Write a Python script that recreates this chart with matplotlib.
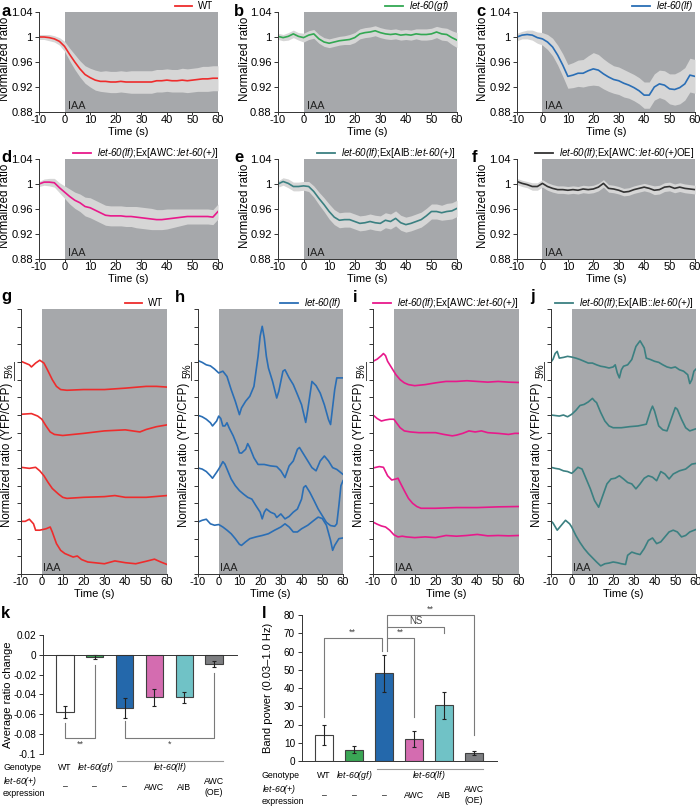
import numpy as np
import matplotlib.pyplot as plt
from matplotlib import transforms

plt.rcParams['font.family'] = ['Liberation Sans', 'DejaVu Sans']
plt.rcParams['mathtext.fontset'] = 'custom'
plt.rcParams['mathtext.it'] = 'Liberation Sans:italic'
plt.rcParams['mathtext.rm'] = 'Liberation Sans:italic'
plt.rcParams['axes.linewidth'] = 0.7
plt.rcParams['axes.unicode_minus'] = False

# ---------------- data ----------------
T = np.arange(-10, 61, 2)

a_mean = [1.000, 1.000, 0.999, 0.997, 0.993, 0.985,
          0.972, 0.960, 0.949, 0.940, 0.935,
          0.931, 0.929, 0.929, 0.928, 0.928,
          0.929, 0.928, 0.928, 0.928, 0.928,
          0.928, 0.928, 0.930, 0.930, 0.931,
          0.930, 0.930, 0.931, 0.930, 0.931,
          0.932, 0.933, 0.933, 0.934, 0.934]
a_sd = [0.004, 0.004, 0.005, 0.005, 0.006, 0.008,
        0.010, 0.012, 0.013, 0.014, 0.015,
        0.016, 0.016, 0.017, 0.017, 0.017,
        0.017, 0.017, 0.018, 0.018, 0.018,
        0.018, 0.018, 0.018, 0.018, 0.018,
        0.018, 0.018, 0.019, 0.019, 0.019,
        0.019, 0.020, 0.020, 0.020, 0.020]

b_mean = [1.001, 0.999, 1.001, 1.005, 1.001, 0.999,
          1.003, 1.005, 0.997, 0.992, 0.990,
          0.992, 0.994, 0.995, 0.996, 0.999,
          1.005, 1.007, 1.008, 1.010, 1.007,
          1.005, 1.004, 1.005, 1.003, 1.004,
          1.003, 1.005, 1.004, 1.004, 1.005,
          1.008, 1.005, 1.004, 0.999, 0.995]
b_sd = [0.005, 0.005, 0.006, 0.006, 0.006, 0.007,
        0.007, 0.007, 0.007, 0.007, 0.007,
        0.007, 0.007, 0.007, 0.008, 0.008,
        0.008, 0.008, 0.008, 0.008, 0.008,
        0.008, 0.008, 0.008, 0.008, 0.008,
        0.008, 0.008, 0.009, 0.009, 0.009,
        0.009, 0.010, 0.010, 0.011, 0.012]

c_mean = [1.000, 1.003, 1.004, 1.003, 0.999, 0.997,
          0.992, 0.984, 0.971, 0.955, 0.937,
          0.939, 0.942, 0.942, 0.946, 0.949,
          0.947, 0.941, 0.936, 0.932, 0.930,
          0.926, 0.923, 0.919, 0.914, 0.907,
          0.907, 0.920, 0.925, 0.923, 0.917,
          0.916, 0.919, 0.925, 0.939, 0.937]
c_sd = [0.006, 0.006, 0.007, 0.008, 0.009, 0.010,
        0.012, 0.014, 0.016, 0.018, 0.019,
        0.020, 0.021, 0.022, 0.024, 0.026,
        0.025, 0.024, 0.023, 0.022, 0.022,
        0.022, 0.021, 0.021, 0.021, 0.021,
        0.021, 0.021, 0.022, 0.023, 0.024,
        0.025, 0.026, 0.026, 0.027, 0.027]

d_mean = [1.000, 1.003, 1.003, 1.002, 0.994, 0.987,
          0.980, 0.974, 0.970, 0.964, 0.962,
          0.958, 0.954, 0.950, 0.949, 0.949,
          0.949, 0.948, 0.948, 0.947, 0.946,
          0.945, 0.944, 0.943, 0.943, 0.944,
          0.945, 0.946, 0.947, 0.948, 0.948,
          0.948, 0.948, 0.948, 0.947, 0.956]
d_sd = [0.004, 0.005, 0.006, 0.007, 0.008, 0.010,
        0.012, 0.013, 0.014, 0.015, 0.016,
        0.016, 0.016, 0.016, 0.016, 0.016,
        0.016, 0.016, 0.016, 0.017, 0.017,
        0.017, 0.017, 0.016, 0.016, 0.016,
        0.015, 0.014, 0.013, 0.012, 0.012,
        0.012, 0.012, 0.012, 0.012, 0.012]

e_mean = [1.000, 1.004, 1.001, 0.996, 0.996, 0.997,
          0.996, 0.988, 0.977, 0.967, 0.956,
          0.947, 0.942, 0.943, 0.943, 0.940,
          0.937, 0.938, 0.940, 0.938, 0.937,
          0.942, 0.940, 0.945, 0.938, 0.935,
          0.937, 0.940, 0.943, 0.949, 0.956,
          0.956, 0.954, 0.956, 0.957, 0.961]
e_sd = [0.005, 0.006, 0.007, 0.007, 0.007, 0.007,
        0.008, 0.009, 0.010, 0.011, 0.012,
        0.012, 0.012, 0.012, 0.012, 0.012,
        0.012, 0.012, 0.012, 0.012, 0.012,
        0.012, 0.012, 0.012, 0.012, 0.012,
        0.012, 0.012, 0.012, 0.012, 0.012,
        0.012, 0.012, 0.013, 0.013, 0.013]

f_mean = [1.004, 1.001, 0.999, 0.996, 0.996, 1.001,
          0.996, 0.993, 0.991, 0.991, 0.990,
          0.991, 0.990, 0.992, 0.991, 0.992,
          0.995, 1.001, 0.993, 0.992, 0.990,
          0.987, 0.988, 0.991, 0.993, 0.995,
          0.993, 0.990, 0.991, 0.995, 0.996,
          0.993, 0.995, 0.993, 0.992, 0.991]
f_sd = [0.005, 0.005, 0.005, 0.006, 0.006, 0.006,
        0.006, 0.006, 0.006, 0.006, 0.006,
        0.006, 0.006, 0.006, 0.006, 0.006,
        0.006, 0.006, 0.006, 0.006, 0.006,
        0.006, 0.006, 0.006, 0.006, 0.006,
        0.006, 0.007, 0.007, 0.007, 0.007,
        0.007, 0.007, 0.007, 0.007, 0.007]

# single-animal traces, (time, normalized ratio)
G1 = [(-10, 1.002), (-6, 0.992), (-5, 0.986), (-3, 0.997), (-1, 1.005), (1, 0.997), (3, 0.974), (5, 0.950),
      (7, 0.931), (9, 0.922), (12, 0.920), (20, 0.922), (30, 0.922), (40, 0.926), (50, 0.931), (55, 0.931), (60, 0.929)]
G2 = [(-10, 1.002), (-5, 1.004), (-2, 0.997), (0, 0.988), (2, 0.969), (4, 0.952), (6, 0.945), (10, 0.942),
      (20, 0.948), (30, 0.955), (40, 0.958), (47, 0.952), (50, 0.959), (55, 0.967), (60, 0.972)]
G3 = [(-10, 1.002), (-6, 0.999), (-3, 1.002), (-1, 0.992), (1, 0.978), (3, 0.959), (5, 0.942), (8, 0.926),
      (10, 0.917), (12, 0.914), (20, 0.917), (30, 0.919), (35, 0.922), (40, 0.917), (50, 0.917), (60, 0.922)]
G4 = [(-10, 0.999), (-8, 0.999), (-6, 1.005), (-4, 0.992), (-3, 0.974), (-1, 0.974), (2, 0.978), (4, 0.983),
      (5, 0.969), (7, 0.936), (9, 0.917), (11, 0.908), (15, 0.898), (17, 0.901), (19, 0.891), (22, 0.884),
      (30, 0.879), (35, 0.887), (40, 0.882), (45, 0.879), (50, 0.886), (54, 0.892), (57, 0.884), (60, 0.877)]

H1 = [(-10, 1.004), (-8, 0.999), (-6, 0.992), (-4, 0.989), (-2, 0.980), (0, 0.969), (2, 0.974), (4, 0.959),
      (6, 0.922), (8, 0.889), (10, 0.851), (11, 0.870), (13, 0.889), (15, 0.903), (17, 0.931), (19, 1.016),
      (20, 1.073), (21, 1.101), (22, 1.068), (23, 1.016), (24, 0.983), (26, 0.945), (28, 0.898), (29, 0.917),
      (31, 0.974), (32, 0.978), (34, 0.955), (36, 0.936), (38, 0.908), (40, 0.879), (42, 0.829), (43, 0.865),
      (45, 0.945), (47, 0.933), (49, 0.912), (51, 0.879), (53, 0.837), (54, 0.823), (56, 0.922), (57, 0.955),
      (60, 0.955)]
H2 = [(-10, 0.999), (-8, 0.995), (-6, 0.988), (-4, 0.978), (-3, 0.969), (-1, 0.983), (0, 0.997), (1, 0.990),
      (2, 0.969), (3, 0.969), (4, 0.978), (5, 0.964), (7, 0.941), (9, 0.912), (10, 0.893), (11, 0.892),
      (13, 0.903), (14, 0.919), (15, 0.908), (17, 0.879), (19, 0.860), (22, 0.860), (25, 0.856), (28, 0.854),
      (30, 0.842), (32, 0.823), (34, 0.856), (36, 0.870), (38, 0.903), (39, 0.908), (41, 0.889), (43, 0.870),
      (45, 0.851), (47, 0.842), (49, 0.870), (51, 0.884), (53, 0.870), (55, 0.851), (57, 0.846), (60, 0.832)]
H3 = [(-10, 1.000), (-8, 0.997), (-6, 0.990), (-4, 0.978), (-3, 0.971), (-1, 0.988), (0, 0.997), (1, 1.007),
      (2, 1.018), (3, 1.011), (4, 0.997), (6, 0.969), (8, 0.950), (10, 0.936), (12, 0.926), (14, 0.917),
      (16, 0.912), (18, 0.893), (20, 0.875), (21, 0.856), (22, 0.875), (23, 0.884), (25, 0.875), (27, 0.870),
      (28, 0.860), (30, 0.870), (32, 0.856), (34, 0.863), (36, 0.875), (38, 0.884), (40, 0.912), (41, 0.945),
      (42, 0.950), (44, 0.931), (46, 0.908), (48, 0.884), (50, 0.865), (52, 0.846), (54, 0.837), (56, 0.835),
      (57, 0.842), (58, 0.893), (59, 0.950), (60, 0.964)]
H4 = [(-10, 0.997), (-8, 1.002), (-6, 1.005), (-4, 0.992), (-2, 0.988), (0, 0.990), (2, 0.983), (4, 0.974),
      (6, 0.964), (8, 0.950), (10, 0.934), (11, 0.931), (13, 0.941), (15, 0.950), (18, 0.955), (21, 0.959),
      (24, 0.964), (27, 0.974), (30, 0.983), (32, 0.992), (34, 0.983), (36, 0.969), (38, 0.969), (40, 0.978),
      (43, 0.988), (46, 1.002), (48, 1.011), (50, 1.007), (52, 0.988), (54, 0.945), (55, 0.917), (56, 0.931),
      (58, 0.950), (60, 0.952)]

I1 = [(-10, 1.002), (-8, 1.008), (-6, 1.018), (-5, 1.024), (-4, 1.018), (-3, 1.002), (-1, 0.983), (1, 0.964),
      (3, 0.950), (5, 0.941), (7, 0.936), (10, 0.933), (15, 0.936), (20, 0.941), (25, 0.945), (30, 0.945),
      (35, 0.947), (40, 0.945), (45, 0.943), (50, 0.945), (55, 0.943), (60, 0.942)]
I2 = [(-10, 1.000), (-8, 0.990), (-6, 0.983), (-4, 0.986), (-2, 0.988), (0, 0.988), (1, 0.980), (3, 0.964),
      (5, 0.955), (8, 0.952), (12, 0.950), (16, 0.950), (20, 0.950), (24, 0.945), (28, 0.941), (30, 0.943),
      (33, 0.948), (36, 0.955), (39, 0.952), (42, 0.955), (45, 0.950), (50, 0.948), (55, 0.945), (58, 0.948),
      (60, 0.948)]
I3 = [(-10, 1.000), (-7, 1.004), (-5, 1.002), (-3, 0.978), (-1, 0.966), (1, 0.969), (2, 0.971), (3, 0.959),
      (5, 0.936), (7, 0.914), (9, 0.900), (11, 0.891), (13, 0.886), (20, 0.886), (30, 0.888), (40, 0.888),
      (50, 0.890), (60, 0.891)]
I4 = [(-10, 0.997), (-8, 0.991), (-6, 0.986), (-4, 0.983), (-2, 0.974), (0, 0.961), (2, 0.955), (4, 0.957),
      (6, 0.955), (10, 0.953), (15, 0.955), (20, 0.953), (25, 0.959), (30, 0.957), (35, 0.959), (40, 0.962),
      (45, 0.958), (50, 0.959), (55, 0.958), (60, 0.959)]

J1 = [(-10, 1.000), (-9, 1.008), (-8, 1.024), (-7, 1.030), (-6, 1.011), (-4, 1.013), (-2, 1.016), (0, 1.014),
      (2, 1.011), (4, 1.007), (6, 1.002), (8, 0.997), (10, 0.997), (12, 0.992), (14, 0.988), (16, 0.986),
      (18, 0.983), (20, 0.986), (21, 0.992), (22, 0.969), (23, 0.955), (24, 0.978), (25, 0.988), (27, 0.992),
      (29, 1.007), (31, 1.044), (33, 1.060), (35, 1.040), (36, 1.011), (38, 1.007), (40, 1.002), (42, 0.999),
      (44, 0.992), (46, 0.986), (48, 0.983), (50, 0.986), (52, 0.978), (54, 0.974), (56, 0.964), (57, 0.939),
      (58, 0.950), (59, 0.974), (60, 0.980)]
J2 = [(-10, 1.000), (-6, 0.997), (-4, 1.000), (-2, 0.995), (0, 1.002), (2, 1.013), (4, 1.027), (6, 1.030),
      (8, 1.037), (10, 1.047), (11, 1.040), (12, 1.035), (14, 1.007), (16, 0.983), (18, 0.969), (20, 0.964),
      (24, 0.964), (28, 0.967), (32, 0.969), (36, 0.974), (38, 1.011), (39, 1.025), (40, 1.011), (42, 0.969),
      (44, 0.958), (46, 0.955), (48, 0.988), (50, 1.021), (51, 1.016), (53, 0.988), (55, 0.964), (57, 0.955),
      (60, 0.961)]
J3 = [(-10, 1.002), (-8, 0.999), (-6, 0.997), (-4, 0.992), (-2, 0.990), (0, 0.985), (1, 0.990), (3, 1.002),
      (5, 0.997), (7, 0.969), (9, 0.941), (11, 0.908), (13, 0.889), (15, 0.922), (17, 0.955), (19, 0.969),
      (21, 0.971), (23, 0.978), (25, 0.969), (27, 0.959), (29, 0.955), (31, 0.941), (33, 0.955), (35, 0.971),
      (37, 0.978), (39, 0.974), (41, 0.964), (43, 0.990), (45, 0.983), (47, 0.969), (49, 0.983), (52, 0.992),
      (55, 0.997), (58, 1.011), (60, 1.013)]
J4 = [(-10, 1.000), (-9, 0.994), (-7, 0.974), (-5, 0.988), (-3, 1.002), (-1, 0.992), (0, 0.983), (2, 0.959),
      (4, 0.939), (6, 0.922), (8, 0.908), (10, 0.896), (12, 0.884), (14, 0.873), (16, 0.879), (18, 0.881),
      (20, 0.884), (22, 0.882), (24, 0.879), (26, 0.877), (27, 0.903), (29, 0.912), (31, 0.908), (33, 0.905),
      (35, 0.922), (37, 0.945), (39, 0.952), (41, 0.936), (43, 0.941), (45, 0.955), (47, 0.969), (49, 0.974),
      (51, 0.969), (53, 0.955), (55, 0.959), (57, 0.969), (60, 0.976)]

# bar charts
k_values = [-0.058, -0.002, -0.054, -0.043, -0.043, -0.009]
k_errors = [0.006, 0.002, 0.010, 0.009, 0.006, 0.003]
l_values = [14.0, 6.3, 48.0, 12.0, 30.5, 4.3]
l_errors = [5.5, 1.8, 10.0, 4.5, 7.5, 1.0]
expression = ['\u2013', '\u2013', '\u2013', 'AWC', 'AIB', 'AWC\n(OE)']

# ---------------- style ----------------
W, H = 700, 806
SHADE = '#a6a8ab'
BAND = '#d6d6d6'
AX_C = '#333333'
WT_C = '#ee2c2c'
GF_C = '#33a853'
LF_C = '#2a6eb5'
AWC_C = '#e8198b'
AIB_C = '#3b8081'
OE_C = '#333333'
bar_colors = ['white', '#3aa655', '#2468ab', '#d46cb0', '#70c2c6', '#7d7e81']

# math segments are set in italic, plain text stays upright
LF = r'$let$-$60(lf)$'
GF = r'$let$-$60(gf)$'
PLUS = r'$let$-$60(+)$'

fig = plt.figure(figsize=(W / 100, H / 100), dpi=100)


def add_ax(l, t, r, b):
    return fig.add_axes([l / W, 1 - b / H, (r - l) / W, (b - t) / H])


def fy(py):
    return 1 - py / H


def letter(px, py, s):
    fig.text(px / W, fy(py), s, fontsize=12, fontweight='bold', va='center', ha='left')


def style_time_axis(ax):
    ax.set_xlim(-10, 60)
    ax.set_xticks(range(-10, 61, 10))
    ax.set_xlabel('Time (s)', fontsize=8, labelpad=1)
    for s in ['top', 'right']:
        ax.spines[s].set_visible(False)
    for s in ['left', 'bottom']:
        ax.spines[s].set_color(AX_C)
    ax.tick_params(direction='out', width=0.7, color=AX_C, labelsize=8)
    ax.tick_params(axis='x', length=2, pad=0.5)
    ax.tick_params(axis='y', length=3, pad=1.5)
    ax.axvspan(0, 60, color=SHADE, lw=0, zorder=0)


def add_legend(ax, color, label, xr, yc):
    ax.plot([], [], color=color, lw=1.3, label=label)
    ax.legend(loc='center right', bbox_to_anchor=(xr / W, fy(yc)), bbox_transform=fig.transFigure,
              frameon=False, fontsize=7, handlelength=1.8, handletextpad=0.6, borderpad=0,
              borderaxespad=0)


def mean_panel(box, mean, sd, color, label, let, let_x, leg_x):
    ax = add_ax(*box)
    style_time_axis(ax)
    m = np.array(mean)
    s = np.array(sd)
    ax.fill_between(T, m - s, m + s, color=BAND, lw=0, zorder=1)
    ax.plot(T, m, color=color, lw=1.2, zorder=2)
    ax.set_ylim(0.88, 1.04)
    ax.set_yticks([0.88, 0.92, 0.96, 1.0, 1.04])
    ax.set_yticklabels(['0.88', '0.92', '0.96', '1', '1.04'])
    ax.set_ylabel('Normalized ratio', fontsize=8.3)
    # label coordinate marks the right edge of the rotated text
    ax.yaxis.set_label_coords(-27.5 / (box[2] - box[0]), 0.53)
    ax.text(1.2, 0.8815, 'IAA', fontsize=7.8, va='bottom', ha='left', color='#222222')
    add_legend(ax, color, label, leg_x, box[1] - 6)
    letter(let_x, box[1] - 1, let)
    return ax


mean_panel((39, 12, 218, 112), a_mean, a_sd, WT_C, 'WT', 'a', 1, 213)
mean_panel((278, 12, 457, 112), b_mean, b_sd, GF_C, GF, 'b', 234, 449)
mean_panel((517, 12, 695, 112), c_mean, c_sd, LF_C, LF, 'c', 476, 693)
mean_panel((39, 159, 218, 259), d_mean, d_sd, AWC_C, LF + ';Ex[AWC::' + PLUS + ']', 'd', 1, 218)
mean_panel((278, 159, 457, 259), e_mean, e_sd, AIB_C, LF + ';Ex[AIB::' + PLUS + ']', 'e', 234, 455)
mean_panel((517, 159, 695, 259), f_mean, f_sd, OE_C, LF + ';Ex[AWC::' + PLUS + 'OE]', 'f', 472, 694)

# ---------------- single traces ----------------
BASES = [0.60, 0.45, 0.30, 0.15]


def trace_panel(box, traces, color, label, let, let_x, leg_x):
    ax = add_ax(*box)
    style_time_axis(ax)
    for tr, base in zip(traces, BASES):
        t = [p[0] for p in tr]
        v = np.array([p[1] for p in tr])
        ax.plot(t, v - 1 + base, color=color, lw=1.2, zorder=2)
    ax.set_ylim(0, 0.75)
    ax.set_yticks(np.arange(0, 0.751, 0.05))
    ax.set_yticklabels([])
    ax.set_ylabel('Normalized ratio (YFP/CFP)', fontsize=8.3)
    ax.yaxis.set_label_coords(-8 / (box[2] - box[0]), 0.45)
    ax.text(0.6, 0.003, 'IAA', fontsize=7.8, va='bottom', ha='left', color='#222222')
    # 5% scale bar
    tr = transforms.blended_transform_factory(ax.transAxes, ax.transData)
    ax.plot([-0.045, -0.045], [0.55, 0.60], color='#444444', lw=0.7, transform=tr, clip_on=False)
    ax.text(-0.075, 0.575, '5%', rotation=90, fontsize=7.3, ha='center', va='center', transform=tr)
    add_legend(ax, color, label, leg_x, box[1] - 6)
    letter(let_x, box[1] - 12, let)
    return ax


trace_panel((21, 309, 167, 574), [G1, G2, G3, G4], WT_C, 'WT', 'g', 1, 163)
trace_panel((198, 309, 343, 574), [H1, H2, H3, H4], LF_C, LF, 'h', 175, 341)
trace_panel((373, 309, 519, 574), [I1, I2, I3, I4], AWC_C, LF + ';Ex[AWC::' + PLUS + ']', 'i', 353, 518)
trace_panel((551, 309, 696, 574), [J1, J2, J3, J4], AIB_C, LF + ';Ex[AIB::' + PLUS + ']', 'j', 530, 693)

# ---------------- bar charts ----------------
X = np.arange(6)
BR_C = '#7a7a7a'
TF = 6.3  # table text size


def bar_panel(box, vals, errs):
    ax = add_ax(*box)
    ax.bar(X, vals, width=0.58, color=bar_colors, edgecolor='#404040', lw=0.8, zorder=2,
           yerr=errs, error_kw=dict(lw=0.8, capsize=1.5, capthick=0.8, ecolor='#222222'))
    ax.set_xlim(-0.74, 5.77)
    ax.set_xticks([])
    for s in ['top', 'right']:
        ax.spines[s].set_visible(False)
    ax.spines['bottom'].set_position(('data', 0))
    for s in ['left', 'bottom']:
        ax.spines[s].set_color(AX_C)
    ax.tick_params(direction='out', length=3, width=0.7, color=AX_C, labelsize=7.2, pad=2)
    return ax


def table_rows(ax, x_left, y_gen, y_line, y_expr1, y_expr2, y_dash, y_oe1):
    tr = transforms.blended_transform_factory(ax.transData, fig.transFigure)
    fig.text(x_left / W, fy(y_gen), 'Genotype', fontsize=TF, va='center')
    fig.text(x_left / W, fy(y_expr1), PLUS, fontsize=TF, va='center')
    fig.text(x_left / W, fy(y_expr2), 'expression', fontsize=TF, va='center')
    ax.text(0, fy(y_gen), 'WT', fontsize=TF, ha='center', va='center', transform=tr)
    ax.text(1, fy(y_gen), GF, fontsize=TF, ha='center', va='center', transform=tr)
    ax.text(3.5, fy(y_gen), LF, fontsize=TF, ha='center', va='center', transform=tr)
    ax.plot([1.75, 5.3], [fy(y_line), fy(y_line)], color='#999999', lw=0.8, transform=tr, clip_on=False)
    for xi, lab in zip(X, expression):
        if '\n' in lab:
            ax.text(xi, fy(y_oe1), lab, fontsize=TF, ha='center', va='center', linespacing=1.15,
                    transform=tr)
        else:
            ax.text(xi, fy(y_dash), lab, fontsize=TF, ha='center', va='center', transform=tr)


def bracket(ax, pts, color=BR_C):
    ax.plot([p[0] for p in pts], [p[1] for p in pts], color=color, lw=0.8, clip_on=False, zorder=3)


# k
ax_k = bar_panel((43, 635, 237, 754), k_values, k_errors)
ax_k.set_ylim(-0.1, 0.02)
ax_k.set_yticks([0.02, 0, -0.02, -0.04, -0.06, -0.08, -0.1])
ax_k.set_yticklabels(['0.02', '0', '-0.02', '-0.04', '-0.06', '-0.08', '-0.1'])
ax_k.set_ylabel('Average ratio change', fontsize=8)
ax_k.yaxis.set_label_coords(-30 / 194, 0.5)
bracket(ax_k, [(0, -0.0686), (0, -0.0838), (1, -0.0838), (1, -0.0105)])
bracket(ax_k, [(2, -0.067), (2, -0.0838), (5, -0.0838), (5, -0.018)])
ax_k.text(0.5, -0.086, '**', fontsize=6.5, ha='center', va='top', color='#444444')
ax_k.text(3.5, -0.086, '*', fontsize=6.5, ha='center', va='top', color='#444444')
table_rows(ax_k, 3, 767, 761, 782, 793, 787, 787)
letter(1, 613, 'k')

# l
ax_l = bar_panel((302, 615, 497, 761), l_values, l_errors)
ax_l.set_ylim(0, 80)
ax_l.set_yticks(range(0, 81, 10))
ax_l.set_ylabel('Band power (0.03\u20131.0 Hz)', fontsize=8)
ax_l.yaxis.set_label_coords(-29 / 195, 0.5)
bracket(ax_l, [(0, 24.2), (0, 67.2), (1.93, 67.2), (1.93, 60.4)])
bracket(ax_l, [(2.1, 60.4), (2.1, 67.2), (3, 67.2), (3, 24.2)])
bracket(ax_l, [(2.1, 67.2), (2.1, 73.6), (4, 73.6), (4, 70.0)])
bracket(ax_l, [(2.1, 73.6), (2.1, 80.0), (5, 80.0), (5, 14.3)])
ax_l.text(0.95, 68.0, '**', fontsize=6.5, ha='center', va='bottom', color='#444444')
ax_l.text(2.55, 68.0, '**', fontsize=6.5, ha='center', va='bottom', color='#444444')
ax_l.text(3.05, 73.9, 'NS', fontsize=7, ha='center', va='bottom', color='#444444')
ax_l.text(3.55, 80.6, '**', fontsize=6.5, ha='center', va='bottom', color='#444444')
table_rows(ax_l, 262, 775, 769, 790, 801, 796, 795)
letter(262, 613, 'l')

fig.savefig('out.png', dpi=100)
